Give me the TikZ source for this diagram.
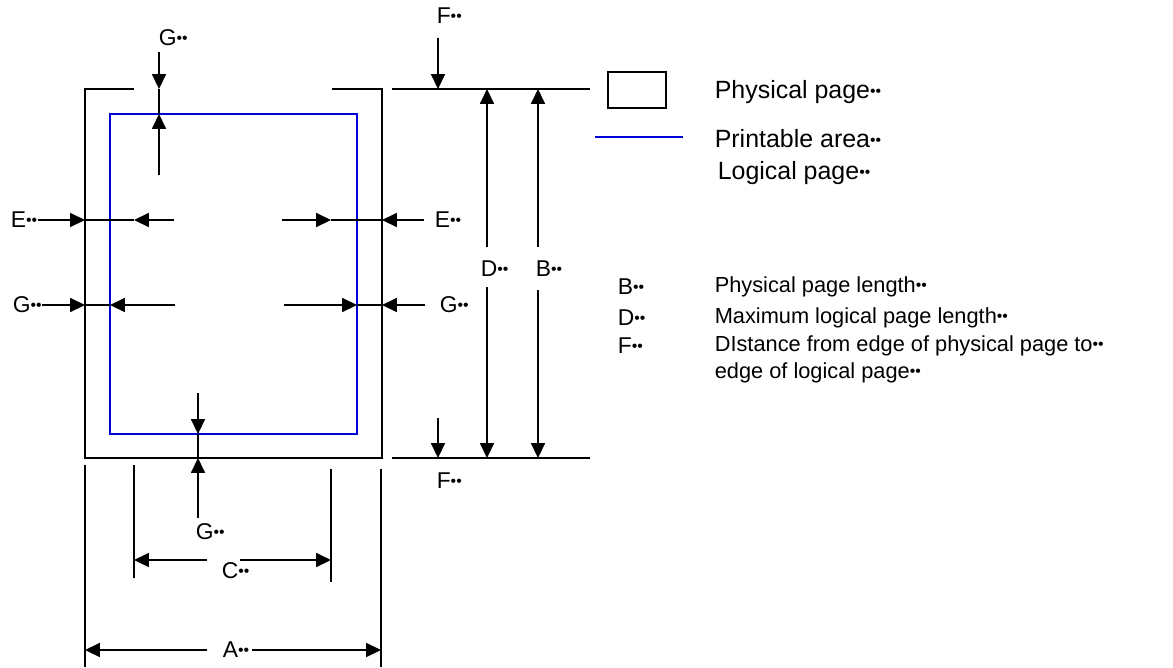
\documentclass[tikz,border=0pt]{standalone}
\usepackage{fontspec}
\setmainfont{Liberation Sans}
\usepackage{tikz}
\usetikzlibrary{arrows.meta}
\newcommand{\mk}{\raisebox{1.3pt}{\fontsize{9}{9}\selectfont ••}}

\begin{document}
\begin{tikzpicture}[x=0.02cm,y=-0.02cm,line width=0.9pt,
  dim/.style={-{Triangle[length=8.5pt,width=8pt]}},
  lbl/.style={font=\fontsize{13}{15}\selectfont,inner sep=0pt,anchor=west},
  small/.style={lbl,font=\fontsize{12.4}{14}\selectfont},
  big/.style={lbl,font=\fontsize{14.2}{16}\selectfont}]
\useasboundingbox (0,0) rectangle (1173,667);
\draw (134,89) -- (85,89) -- (85,458) -- (382,458) -- (382,89) -- (332,89); % physical page
\draw[blue!85!black] (110,114) rectangle (357,434); % printable area
% G top
\node[lbl] (gtop) at (158,38) {G\mk};
\draw[dim] (159,52) -- (159,89);
\draw (159,89) -- (159,114);
\draw[dim] (159,175) -- (159,114);
% E
\node[lbl] (eleft) at (10,220) {E\mk};
\draw[dim] (38,220) -- (85,220);
\draw (85,220) -- (134,220);
\draw[dim] (174,220) -- (134,220);
\draw[dim] (282,220) -- (331,220);
\draw (331,220) -- (382,220);
\draw[dim] (424,220) -- (382,220);
\node[lbl] (eright) at (434,220) {E\mk};
% G sides
\node[lbl] (gleft) at (12,305) {G\mk};
\draw[dim] (42,305) -- (85,305);
\draw (85,305) -- (110,305);
\draw[dim] (175,305) -- (110,305);
\draw[dim] (284,305) -- (357,305);
\draw (357,305) -- (382,305);
\draw[dim] (425,305) -- (382,305);
\node[lbl] (gright) at (439,305) {G\mk};
% G bottom
\draw[dim] (198,393) -- (198,434);
\draw (198,434) -- (198,458);
\draw[dim] (198,518) -- (198,458);
\node[lbl] (gbot) at (195,532) {G\mk};
% C
\draw (134,465) -- (134,578);
\draw (331,469) -- (331,582);
\draw[dim] (207,560) -- (134,560);
\draw[dim] (240,560) -- (331,560);
\node[lbl] (c) at (221,571) {C\mk};
% A
\draw (85,465) -- (85,667);
\draw (381,469) -- (381,667);
\draw[dim] (207,650) -- (85,650);
\draw[dim] (252,650) -- (381,650);
\node[lbl] (a) at (222,650) {A\mk};
% F, D, B
\draw (392,89) -- (590,89);
\draw (392,458) -- (590,458);
\node[lbl] (ftop) at (436,16) {F\mk};
\draw[dim] (438,38) -- (438,89);
\draw[dim] (438,418) -- (438,458);
\node[lbl] (fbot) at (436,481) {F\mk};
\draw[dim] (487,247) -- (487,89);
\draw[dim] (487,287) -- (487,458);
\node[lbl] (d) at (480,269) {D\mk};
\draw[dim] (538,247) -- (538,89);
\draw[dim] (538,290) -- (538,458);
\node[lbl] (b) at (535,269) {B\mk};
% legend
\draw (608,72) rectangle (666,108);
\node[big] (phys) at (714,92) {Physical page\mk};
\draw[blue!85!black] (595,137) -- (683,137);
\node[big] (print) at (714,139) {Printable area\mk};
\node[big] (logic) at (717,173) {Logical page\mk};
\node[lbl] (kb) at (617,287) {B\mk};
\node[small] (tb) at (714,287) {Physical page length\mk};
\node[lbl] (kd) at (617,318) {D\mk};
\node[small] (td) at (714,318) {Maximum logical page length\mk};
\node[lbl] (kf) at (617,346) {F\mk};
\node[small] (tf) at (714,346) {DIstance from edge of physical page to\mk};
\node[small] (tf2) at (714,373) {edge of logical page\mk};
\end{tikzpicture}
\end{document}
